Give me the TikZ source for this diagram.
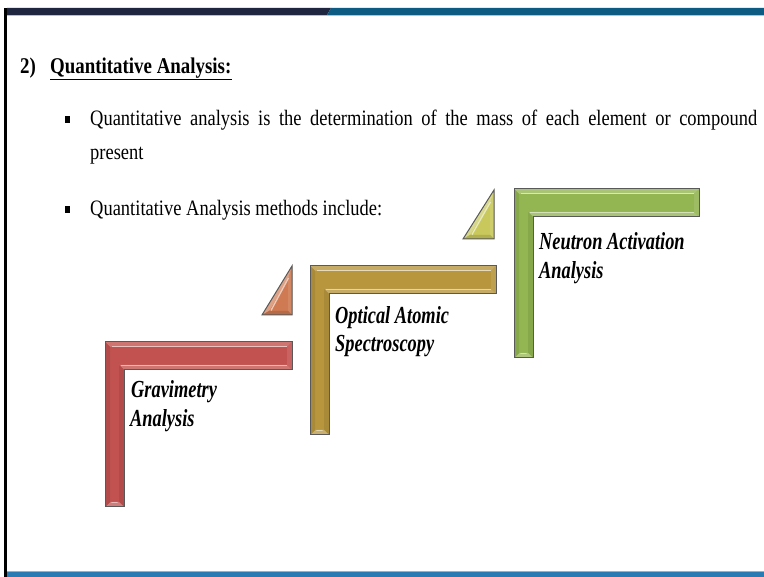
\documentclass[tikz,border=0pt]{standalone}
\usepackage{fontspec}
\setmainfont{Liberation Serif}
\newfontfamily\slidefont[FakeStretch=0.84]{Liberation Serif}
\newfontfamily\labelfont[FakeStretch=0.75]{Liberation Serif}

\definecolor{barnavy}{HTML}{1F2640}
\definecolor{barteal}{HTML}{0D5A82}
\definecolor{footblue}{HTML}{2A7AB4}
\definecolor{redL}{HTML}{C2524F}
\definecolor{goldL}{HTML}{B7963E}
\definecolor{greenL}{HTML}{93B552}
\definecolor{orangeT}{HTML}{CF7A52}
\definecolor{limeT}{HTML}{C8C85C}

% bevelled L-shaped step: colour, left x, top y, right x, bottom y
\newcommand{\bevelL}[5]{%
  \fill[#1] (#2,#3) -- (#4,#3) -- (#4,#3+28) -- (#2+19,#3+28) -- (#2+19,#5) -- (#2,#5) -- cycle;
  % facets
  \fill[#1!80!white] (#2,#3) -- (#4,#3) -- (#4-5,#3+5) -- (#2+5,#3+5) -- cycle;
  \fill[#1!90!white] (#4,#3) -- (#4,#3+28) -- (#4-5,#3+23) -- (#4-5,#3+5) -- cycle;
  \fill[#1!80!white] (#4,#3+28) -- (#2+19,#3+28) -- (#2+14,#3+23) -- (#4-5,#3+23) -- cycle;
  \fill[#1!92!black] (#2+19,#3+28) -- (#2+19,#5) -- (#2+14,#5-5) -- (#2+14,#3+23) -- cycle;
  \fill[#1!75!white] (#2+19,#5) -- (#2,#5) -- (#2+5,#5-5) -- (#2+14,#5-5) -- cycle;
  \fill[#1!92!black] (#2,#5) -- (#2,#3) -- (#2+5,#3+5) -- (#2+5,#5-5) -- cycle;
  % highlights
  \draw[white!65!#1, line width=1.6] (#2+7,#3+4.5) -- (#4-5,#3+4.5);
  \draw[white!60!#1, line width=1.6] (#2+16,#3+23.5) -- (#4-5,#3+23.5);
  \draw[white!60!#1, line width=1.8, line cap=round] (#2+7,#5-4.5) -- (#2+12,#5-4.5);
  \draw[stepline] (#2,#3) -- (#4,#3) -- (#4,#3+28) -- (#2+19,#3+28) -- (#2+19,#5) -- (#2,#5) -- cycle;
}
% bevelled right triangle: colour, left x, top y, right x, bottom y
\newcommand{\bevelT}[5]{%
  \fill[#1] (#4,#3) -- (#4,#5) -- (#2,#5) -- cycle;
  \fill[#1!70!white] (#4,#3) -- (#2,#5) -- (#2+7,#5-4) -- (#4-4,#3+14) -- cycle;
  \fill[#1!90!white] (#4,#3) -- (#4,#5) -- (#4-4,#5-4) -- (#4-4,#3+14) -- cycle;
  \fill[#1!88!black] (#4,#5) -- (#2,#5) -- (#2+7,#5-4) -- (#4-4,#5-4) -- cycle;
  \draw[white!60!#1, line width=1.3] (#4-3.5,#3+12) -- (#2+9,#5-4.5);
  \draw[stepline] (#4,#3) -- (#4,#5) -- (#2,#5) -- cycle;
}

\tikzset{
  stepline/.style={draw=black!65, line width=1},
  bodytext/.style={anchor=base west, inner sep=0, font=\slidefont\fontsize{22}{26}\selectfont},
  headtext/.style={anchor=base west, inner sep=0, font=\slidefont\bfseries\fontsize{22.5}{26}\selectfont},
  steplabel/.style={anchor=base west, inner sep=0, font=\labelfont\bfseries\itshape\fontsize{24.5}{28}\selectfont},
  bulletbox/.style={fill=black, inner sep=0, minimum width=5, minimum height=7},
}

\begin{document}
\begin{tikzpicture}[x=1pt, y=-1pt]
  \useasboundingbox (0,0) rectangle (764,577);
  \fill[white] (0,0) rectangle (764,577);

  % header band
  \fill[barnavy] (7,8) -- (331,8) -- (327,15) -- (7,15) -- cycle;
  \fill[barteal] (331,8) -- (764,8) -- (764,15) -- (327,15) -- cycle;
  \fill[black!25] (7,15) rectangle (764,16.5);
  % left edge and footer band
  \fill[black] (4,8) rectangle (7,577);
  \fill[footblue] (7,571) rectangle (764,577);
  \fill[footblue!55!white] (7,570.5) rectangle (764,571.8);

  % heading
  \node[headtext] (num) at (20,74) {2)};
  \node[headtext] (title) at (50,74) {Quantitative Analysis:};
  \draw[line width=1.1] ([yshift=-0.5]title.south west) -- ([yshift=-0.5]title.south east);

  % bullet points
  \node[bulletbox] (b1) at (67,120) {};
  \node[bodytext] (l1) at (90,126) {\makebox[667pt][s]{Quantitative analysis is the determination of the mass of each element or compound}};
  \node[bodytext] (l2) at (90,160) {present};
  \node[bulletbox] (b2) at (67,210) {};
  \node[bodytext] (l3) at (90,216) {Quantitative Analysis methods include:};

  % steps
  \bevelL{redL}{105}{342}{292}{507}
  \bevelT{orangeT}{262}{266}{292}{315}
  \bevelL{goldL}{310}{266}{496}{435}
  \bevelT{limeT}{463}{190}{494}{239}
  \bevelL{greenL}{514}{189}{699}{358}

  % step labels
  \node[steplabel] (g1) at (131,398) {Gravimetry};
  \node[steplabel] (g2) at (130,427) {Analysis};
  \node[steplabel] (o1) at (335,324) {Optical Atomic};
  \node[steplabel] (o2) at (335,352) {Spectroscopy};
  \node[steplabel] (n1) at (539,250) {Neutron Activation};
  \node[steplabel] (n2) at (539,279) {Analysis};
\end{tikzpicture}
\end{document}
